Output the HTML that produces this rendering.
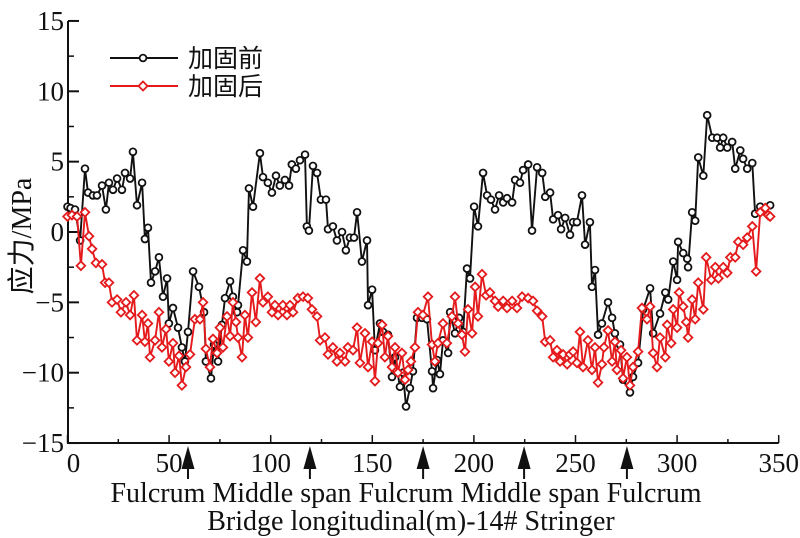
<!DOCTYPE html>
<html><head><meta charset="utf-8"><style>
html,body{margin:0;padding:0;background:#fff;}
svg{display:block;}
text{font-family:"Liberation Serif","Noto Serif CJK SC",serif;fill:#111;}
</style></head><body>
<svg id="chart" width="800" height="538" viewBox="0 0 800 538" xmlns="http://www.w3.org/2000/svg">
<g id="axes"></g>
<g id="series"></g>
<g id="legend">
  <line x1="110" y1="58" x2="178" y2="58" stroke="#111" stroke-width="2"/>
  <circle cx="143" cy="58" r="3.4" fill="#fff" stroke="#111" stroke-width="1.8"/>
  <text x="188" y="67" font-size="25" style="font-family:'Noto Sans CJK SC',sans-serif">加固前</text>
  <line x1="110" y1="86" x2="178" y2="86" stroke="#e41a1c" stroke-width="2"/>
  <path d="M143,81.5 L147.5,86 L143,90.5 L138.5,86 Z" fill="#fff" stroke="#e41a1c" stroke-width="1.8"/>
  <text x="188" y="95" font-size="25" style="font-family:'Noto Sans CJK SC',sans-serif">加固后</text>
</g>
<text transform="translate(31,236) rotate(-90)" text-anchor="middle" font-size="28"><tspan style="font-family:'Noto Sans CJK SC',sans-serif">应力</tspan>/MPa</text>
<text x="406" y="502" text-anchor="middle" font-size="28">Fulcrum Middle span Fulcrum Middle span Fulcrum</text>
<text x="411" y="530" text-anchor="middle" font-size="28">Bridge longitudinal(m)-14# Stringer</text>
</svg>
<script>
const blackX=[0,1.5,3.7,6.2,8.6,10.1,12.5,14.5,17,18.9,20.4,22.4,24.4,26.8,28.3,30.8,32.2,34.2,36.7,38.1,39.6,41.1,43.1,45,47,49,49.9,51.9,54.4,56.3,57.8,59.3,61.8,64.7,67.2,68.1,70.6,72.1,74.1,76,77.5,80,81.4,83.4,83.9,86.4,88.3,89.3,91.3,94.7,96.2,98.6,100.6,102.6,104.5,107,109,110.4,112.4,114.4,116.9,117.8,118.8,120.8,122.8,124.7,127.2,128.2,130.6,132.6,135.1,137,139,141,142.5,144.9,147.4,147.9,149.9,151.3,153.8,155.3,157.7,159.7,161.2,163.6,165.1,166.6,168.5,170,172,174.5,176.9,179.4,179.9,181.9,183.3,184.8,187.3,188.3,190.7,192.7,194.7,196.6,198.1,200.1,202,204.5,206.5,208.4,210.4,212.4,214.4,216.3,218.8,220.3,222.7,224.2,226.7,228.6,231.1,233.6,235.1,237.5,239,241.4,242.9,244.9,247.3,248.8,250.7,253.2,254.7,257.1,258.1,259.6,261.1,263,266,268,269.4,271.9,273.4,276.8,278.3,280.8,283.3,286.7,288.2,291.6,294.2,295.6,298.1,300,300.5,303,305,305.4,307.4,308.9,310.4,312.9,314.8,317.3,319.7,321.2,322.7,324.7,327.1,328.6,331.1,332.5,334.5,337,338.4,340.9,345.8];
const blackY=[1.8,1.7,1.6,-0.6,4.5,2.8,2.6,2.6,3.3,1.6,3.5,3,3.8,3,4.2,3.8,5.7,1.9,3.5,-0.5,0.3,-3.6,-2.8,-1.8,-4.6,-3.3,-6.5,-5.4,-6.8,-8.2,-9.2,-7.1,-2.8,-3.9,-5.7,-9.2,-10.4,-8,-9.2,-6.6,-4.7,-3.5,-4.6,-5.7,-5.2,-1.3,-2.1,3.1,1.8,5.6,3.9,3.5,2.8,4,3.3,3.7,3.3,4.8,4.5,5.1,5.5,0.4,0.1,4.7,4.2,2.3,2.3,0.2,0.4,-0.6,0,-1.3,-0.4,-0.4,1.4,-2.1,-0.6,-5.2,-4.1,-8.4,-6.5,-7.1,-7.3,-10.3,-8.9,-11,-10,-12.4,-11.1,-9.9,-6.1,-6.1,-6.2,-9.9,-11.1,-9.1,-10.1,-7.7,-8.6,-5.7,-7.2,-6.1,-7.1,-2.6,-3.3,1.8,0.4,4.2,2.6,2.3,1.6,2.6,2.1,2.4,2.1,3.7,3.5,4.4,4.8,0.1,4.6,4.2,2.5,2.8,0.9,1.2,0.2,1,-0.2,0.7,0.7,2.6,-0.9,0.7,-3.9,-2.7,-7.3,-6.5,-5,-6.1,-7.2,-8,-10.5,-11.4,-10.3,-9.3,-5.5,-4,-7.2,-5.8,-4.3,-4.8,-2.1,-3.4,-0.7,-1.5,-1.9,-2.5,1.4,0.8,5.3,4,8.3,6.7,6.7,6,6.7,6,6.4,4.5,5.8,5.2,4.5,4.9,1.3,1.8,1.9];
const redX=[0,2.2,4.7,6.6,8.6,10.6,12.1,14,17,18.5,20.4,21.9,24.4,26.3,28.8,30.8,32.7,34.2,36.7,38.1,39.6,40.6,43.1,45,46.5,48.5,49.9,51.9,52.9,54.9,56.3,58.3,60.3,62.7,65.2,66.7,68.1,70.1,71.6,73.6,75,76.5,78.5,80,81.4,82.9,83.9,85.9,87.3,88.8,90.8,92.7,94.7,96.2,98.6,100.6,102.1,103.6,106,108,109.5,111,113.4,115.9,118.3,120.3,122.8,124.3,126.7,128.2,130.6,132.6,134.1,136.6,138,140.5,142.5,143.9,146.4,147.9,149.9,151.3,152.8,154.8,156.2,157.7,159.7,161.2,162.6,164.6,166.1,167.6,169,171,172.5,174.9,177.4,179.4,180.8,182.3,184.8,186.7,189.2,190.7,192.2,194.1,195.6,197.1,199.1,200.6,202,204,206,207.9,210.4,211.9,214.4,216.3,218.8,221.2,223.7,226.7,229.1,231.1,233.6,235.1,237.5,239,240.9,242.4,243.9,245.9,247.3,248.8,250.7,252.2,253.7,256.1,258.1,259.6,261.1,263,264,266,268,269.4,270.4,272.4,273.4,275.3,276.8,278.3,280.8,282.7,285.2,286.7,288.2,290.1,291.6,294.2,295.1,297.1,298.1,300,301,303,304.5,305.4,307.4,308.9,310.4,312.9,314.3,316.8,318.8,320.3,322.7,324.7,326.2,328.6,330.1,332.5,334.5,337,338.9,340.9,343.4,344.8,345.8];
const redY=[1.1,1.2,1.1,-2.4,1.4,-0.3,-1.2,-2.2,-2.3,-3.6,-3.6,-5,-4.8,-5.7,-5,-5.9,-4.5,-7.7,-5.9,-7.8,-6.5,-8.9,-7.7,-5.7,-8.2,-6.9,-9.2,-7.9,-10,-8.8,-10.9,-9.6,-8.7,-6.2,-6.2,-5,-8.3,-9.6,-7.6,-8.6,-6.8,-8.2,-6,-7.4,-5,-6.4,-7.5,-8.9,-5.9,-7.5,-4.3,-6.4,-3.3,-5,-4.6,-5.7,-5.2,-5.9,-5.2,-5.9,-5.2,-5.7,-4.7,-4.6,-4.7,-5.5,-6,-7.7,-7.5,-8.7,-8.2,-9.2,-8.6,-9.2,-8.2,-8.4,-6.8,-9.3,-7.2,-9.6,-7.8,-10.6,-7.9,-6.6,-8.9,-7.4,-9.6,-8.2,-10,-8.6,-10.5,-9.8,-9.2,-8.2,-5.7,-5.9,-4.6,-8,-9.2,-7.9,-6.5,-7.9,-6,-4.6,-6.5,-7.3,-8.5,-5.5,-7.2,-3.9,-6,-3,-4.5,-4.3,-4.9,-5.3,-4.9,-5.4,-4.9,-5.4,-4.6,-4.7,-4.9,-5.6,-6,-7.8,-7.7,-8.9,-8.4,-9.2,-8.7,-9.4,-8.7,-8.5,-9.3,-7.1,-9.6,-7.7,-9.8,-8.2,-10.7,-9.4,-8.2,-7,-9.2,-7.8,-9.8,-8.4,-10.4,-8.9,-10.9,-9.6,-8.5,-5.4,-6.2,-5.3,-8.6,-9.6,-7.5,-8.9,-6.6,-7.9,-5.5,-6.8,-4.3,-5.3,-6.4,-7.5,-4.8,-6.2,-3.6,-5.5,-1.8,-3.4,-2.5,-3.3,-2.5,-2.9,-1.8,-1.8,-0.7,-0.9,-0.4,0.4,-2.8,1.4,1.7,1.2,1.1];
const xTicks=[0,50,100,150,200,250,300,350];
const yTicks=[-15,-10,-5,0,5,10,15];
const arrowX=[59.3,119.3,175,224.7,275.3];

const NS='http://www.w3.org/2000/svg';
const X0=67.5, XS=2.032, Y0=232, YS=14.07;
function sx(m){return X0+m*XS;}
function sy(v){return Y0-v*YS;}
function mk(tag,attrs,parent){const e=document.createElementNS(NS,tag);for(const k in attrs)e.setAttribute(k,attrs[k]);parent.appendChild(e);return e;}
const axes=document.getElementById('axes');
const series=document.getElementById('series');

let yl=mk('line',{x1:68,y1:sy(15),x2:68,y2:sy(-15)+1,stroke:'#111','stroke-width':2},axes);


let xl=mk('line',{x1:67,y1:sy(-15),x2:sx(350),y2:sy(-15),stroke:'#111','stroke-width':2},axes);



for(let i=0;i<yTicks.length;i++){
  const v=yTicks[i];const y=sy(v);
  mk('line',{x1:68,y1:y,x2:79,y2:y,stroke:'#111','stroke-width':2},axes);
  if(i<yTicks.length-1) mk('line',{x1:68,y1:sy(v+2.5),x2:74,y2:sy(v+2.5),stroke:'#111','stroke-width':1.5},axes);
  const t=mk('text',{x:64,y:y+9,'text-anchor':'end','font-size':27},axes);
  
  
  t.textContent=v<0?'\u2212'+Math.abs(v):String(v);
}
for(let i=0;i<xTicks.length;i++){
  const m=xTicks[i];const x=sx(m);
  mk('line',{x1:x,y1:sy(-15),x2:x,y2:sy(-15)-8,stroke:'#111','stroke-width':1.5},axes);
  if(i<xTicks.length-1) mk('line',{x1:sx(m+25),y1:sy(-15),x2:sx(m+25),y2:sy(-15)-4,stroke:'#111','stroke-width':1.5},axes);
  const t=mk('text',{x:m===0?x+6:x,y:472,'text-anchor':'middle','font-size':27},axes);
  
  
  t.textContent=String(m);
}
for(let i=0;i<arrowX.length;i++){
  const x=sx(arrowX[i]);
  const g=mk('g',{},axes);
  
  
  mk('line',{x1:x,y1:465,x2:x,y2:479,stroke:'#111','stroke-width':2},g);
  mk('path',{d:`M${x},446 L${x+6.5},469 L${x-6.5},469 Z`,fill:'#111'},g);
}

function drawSeries(xs,ys,color,shape,name){
  const n=Math.min(xs.length,ys.length);
  const g=mk('g',{},series);
  
  
  let d='';
  for(let i=0;i<n;i++) d+=(i?'L':'M')+sx(xs[i]).toFixed(1)+','+sy(ys[i]).toFixed(1);
  const p=mk('path',{d:d,fill:'none',stroke:color,'stroke-width':1.9,'stroke-linejoin':'round'},g);
  
  
  for(let i=0;i<n;i++){
    const x=sx(xs[i]),y=sy(ys[i]);let m;
    if(shape==='circle') m=mk('circle',{cx:x,cy:y,r:3.4,fill:'#fff',stroke:color,'stroke-width':1.8},g);
    else m=mk('path',{d:`M${x},${y-4.3} L${x+4.3},${y} L${x},${y+4.3} L${x-4.3},${y} Z`,fill:'#fff',stroke:color,'stroke-width':1.8},g);
    
    
  }
}
drawSeries(blackX,blackY,'#111','circle','before-reinforcement');
drawSeries(redX,redY,'#e41a1c','diamond','after-reinforcement');
</script>
</body></html>
